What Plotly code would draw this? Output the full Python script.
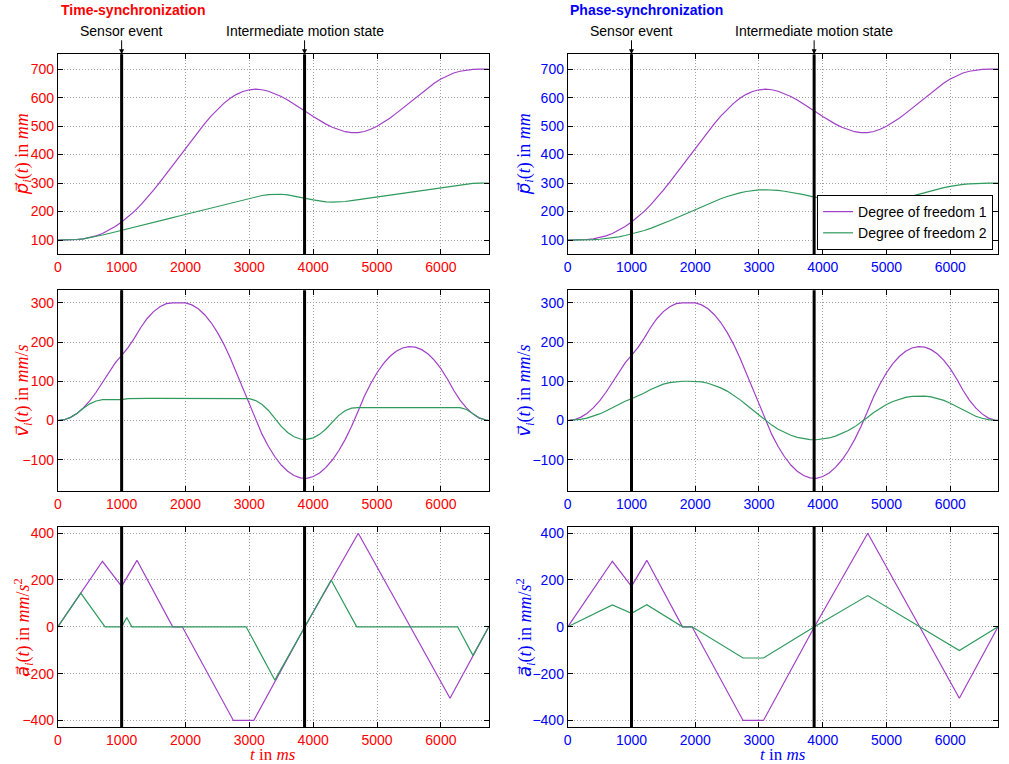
import plotly.graph_objects as go

# ---------------- data ----------------
T = [0, 100, 200, 300, 400, 500, 600, 700, 800, 900,
     1000, 1100, 1200, 1300, 1400, 1500, 1600, 1700, 1800, 1900,
     2000, 2100, 2200, 2300, 2400, 2500, 2600, 2700, 2800, 2900,
     3000, 3100, 3200, 3300, 3400, 3500, 3600, 3700, 3800, 3900,
     4000, 4100, 4200, 4300, 4400, 4500, 4600, 4700, 4800, 4900,
     5000, 5100, 5200, 5300, 5400, 5500, 5600, 5700, 5800, 5900,
     6000, 6100, 6200, 6300, 6400, 6500, 6600, 6700, 6750]

# Degree of freedom 1 (identical in both columns)
P1 = [100, 100.1, 100.6, 101.9, 104.4, 108.5, 114.6, 123.1, 134.2, 147.8,
      163.4, 181.0, 200.8, 223.2, 248.0, 274.9, 303.3, 332.7, 362.6, 392.6,
      422.6, 452.3, 481.3, 509.0, 535.0, 558.7, 579.7, 597.4, 611.4, 621.4,
      627.4, 629.4, 627.5, 622.3, 614.2, 603.7, 591.4, 577.8, 563.3, 548.4,
      533.7, 519.8, 506.9, 495.8, 486.7, 480.3, 476.9, 477.1, 481.1, 488.7,
      499.3, 512.5, 527.7, 544.6, 562.5, 581.1, 599.7, 618.0, 635.3, 651.3,
      665.4, 677.2, 686.2, 692.6, 696.6, 698.9, 699.8, 700.1, 700.0]
V1 = [0, 2, 8, 18, 32, 50, 72, 98, 124, 147,
      166, 186, 210, 237, 260, 277.5, 290, 298, 300, 300,
      299.7, 294.7, 284.7, 269.7, 249.7, 224.7, 194.7, 159.7, 120.3, 80.3,
      40.3, 0.5, -35.5, -66.5, -92.5, -113.5, -129.5, -140.5, -146.5, -147.5,
      -143, -133.8, -119.7, -100.8, -77.2, -48.8, -15.5, 22.4, 60.9, 93.8,
      121.8, 144.9, 163.1, 176.4, 184.8, 188.3, 186.9, 180.6, 169.4, 153.3,
      132.3, 106.4, 77.1, 52, 31.9, 16.8, 6, 1.2, 0]
TA1 = [0, 700, 1000, 1240, 1800, 1950, 2750, 3070, 3870, 4706, 5521, 6143, 6750]
A1 = [0, 280, 173, 284, 0, 0, -400, -400, 0, 400, 0, -305, 0]

# Degree of freedom 2, time-synchronization
P2_TIME = [100, 100.1, 100.6, 101.9, 104.4, 108.1, 112.7, 117.8, 123.1, 128.4,
           133.8, 139.2, 144.8, 150.5, 156.1, 161.8, 167.4, 173.1, 178.7, 184.4,
           190.0, 195.7, 201.3, 207.0, 212.6, 218.3, 223.9, 229.6, 235.2, 240.9,
           246.5, 251.8, 256.4, 259.7, 261.3, 260.8, 258.5, 254.9, 250.5, 245.7,
           241.1, 237.1, 234.3, 233.0, 233.5, 235.4, 238.2, 241.4, 244.7, 248.0,
           251.3, 254.6, 257.9, 261.2, 264.5, 267.8, 271.1, 274.4, 277.7, 281.0,
           284.3, 287.6, 290.9, 294.2, 297.0, 299.0, 300.0, 300.3, 300.3]
V2_TIME = [0, 2, 8, 18, 31.4, 42.4, 49.6, 53.0, 53.3, 53.3,
           53.3, 55.7, 56.5, 56.5, 56.5, 56.5, 56.5, 56.5, 56.5, 56.5,
           56.5, 56.5, 56.5, 56.5, 56.5, 56.5, 56.5, 56.5, 56.5, 56.5,
           55.9, 50.8, 40.7, 25.5, 5.2, -15.2, -30.7, -41.4, -47.2, -48.1,
           -44.2, -35.4, -21.8, -3.5, 13.1, 24.7, 31.3, 33.0, 33.0, 33.0,
           33.0, 33.0, 33.0, 33.0, 33.0, 33.0, 33.0, 33.0, 33.0, 33.0,
           33.0, 33.0, 33.0, 32.6, 28.1, 18.5, 7, 1.5, 0]
TA2_TIME = [0, 360, 740, 1000, 1080, 1160, 2950, 3400, 4281, 4682, 6262, 6502, 6750]
A2_TIME = [0, 144, 0, 0, 40, 0, 0, -228, 200, 0, 0, -122, 0]

# Degree of freedom 2, phase-synchronization
P2_PHASE = [100, 100.0, 100.2, 100.6, 101.5, 102.8, 104.9, 107.7, 111.4, 115.9,
            121.1, 127.0, 133.6, 141.1, 149.3, 158.3, 167.8, 177.6, 187.5, 197.5,
            207.5, 217.4, 227.1, 236.3, 245.0, 252.9, 259.9, 265.8, 270.5, 273.8,
            275.8, 276.5, 275.8, 274.1, 271.4, 267.9, 263.8, 259.3, 254.4, 249.5,
            244.6, 239.9, 235.6, 231.9, 228.9, 226.8, 225.6, 225.7, 227.0, 229.6,
            233.1, 237.5, 242.6, 248.2, 254.2, 260.4, 266.6, 272.7, 278.4, 283.8,
            288.5, 292.4, 295.4, 297.5, 298.9, 299.6, 299.9, 300.0, 300.0]
V2_PHASE = [0, 0.7, 2.7, 6, 10.7, 16.7, 24, 32.7, 41.3, 49,
            55.3, 62, 70, 79, 86.7, 92.5, 96.7, 99.3, 100, 100,
            99.9, 98.2, 94.9, 89.9, 83.2, 74.9, 64.9, 53.2, 40.1, 26.8,
            13.4, 0.2, -11.8, -22.2, -30.8, -37.8, -43.2, -46.8, -48.8, -49.2,
            -47.7, -44.6, -39.9, -33.6, -25.7, -16.3, -5.2, 7.5, 20.3, 31.3,
            40.6, 48.3, 54.4, 58.8, 61.6, 62.8, 62.3, 60.2, 56.5, 51.1,
            44.1, 35.5, 25.7, 17.3, 10.6, 5.6, 2, 0.4, 0]
A2_PHASE = [0, 93.3, 57.7, 94.7, 0, 0, -133.3, -133.3, 0, 133.3, 0, -101.7, 0]

EVENTS = [1000, 3865]
EVENT_LABELS = ["Sensor event", "Intermediate motion state"]
COLUMN_TITLES = ["Time-synchronization", "Phase-synchronization"]
LEGEND_NAMES = ["Degree of freedom 1", "Degree of freedom 2"]
X_TICKS = [0, 1000, 2000, 3000, 4000, 5000, 6000]
Y_TICKS = [[100, 200, 300, 400, 500, 600, 700],
           [-100, 0, 100, 200, 300],
           [-400, -200, 0, 200, 400]]

# ---------------- styling ----------------
W, H = 1009, 764
PURPLE = "#a040c8"
GREEN = "#2e9a5c"
COL_COLORS = ["#ff0000", "#0000ff"]
SANS = "Liberation Sans, Arial, sans-serif"
SERIF = "Liberation Serif, DejaVu Serif, serif"

X_DOM = [[54 / W, 486.7 / W], [566 / W, 998 / W]]
ROW_PX = [[52.5, 253.3], [289.4, 491.0], [526.7, 728.3]]
Y_DOM = [[1 - b / H, 1 - t / H] for t, b in ROW_PX]
Y_RANGES = [[50, 752], [-180, 332], [-430, 428]]
X_RANGE = [0, 6750]


def vec(letter):
    # vector arrow over an italic letter, rendered with a font that has U+20D7
    return ('<span style="font-family:DejaVu Sans;font-style:italic">'
            + letter + '\u20d7</span>')


YLABELS = [
    vec("p") + "<sub><i>i</i></sub>(<i>t</i>) in <i>mm</i>",
    vec("v") + "<sub><i>i</i></sub>(<i>t</i>) in <i>mm</i>/<i>s</i>",
    vec("a") + "<sub><i>i</i></sub>(<i>t</i>) in <i>mm</i>/<i>s</i><sup>2</sup>",
]

fig = go.Figure()

data = {
    0: [(T, P1, T, P2_TIME), (T, V1, T, V2_TIME), (TA1, A1, TA2_TIME, A2_TIME)],
    1: [(T, P1, T, P2_PHASE), (T, V1, T, V2_PHASE), (TA1, A1, TA1, A2_PHASE)],
}

layout = dict(
    width=W, height=H, autosize=False,
    margin=dict(l=0, r=0, t=0, b=0),
    paper_bgcolor="white", plot_bgcolor="white",
    font=dict(family=SANS, size=14, color="black"),
    showlegend=True,
    legend=dict(
        x=993 / W, xanchor="right", y=1 - 249 / H, yanchor="bottom",
        bgcolor="white", bordercolor="black", borderwidth=1,
        font=dict(family=SANS, size=14, color="black"),
        itemwidth=30, tracegroupgap=0,
    ),
)

shapes = []
annotations = []

for c in range(2):
    for r in range(3):
        idx = r * 2 + c + 1
        xs = "" if idx == 1 else str(idx)
        xa, ya = "x" + xs, "y" + xs
        t1, y1, t2, y2 = data[c][r]
        show = (c == 1 and r == 0)
        fig.add_trace(go.Scatter(x=t1, y=y1, mode="lines", name=LEGEND_NAMES[0],
                                 line=dict(color=PURPLE, width=1.2),
                                 xaxis=xa, yaxis=ya, showlegend=show))
        fig.add_trace(go.Scatter(x=t2, y=y2, mode="lines", name=LEGEND_NAMES[1],
                                 line=dict(color=GREEN, width=1.2),
                                 xaxis=xa, yaxis=ya, showlegend=show))
        axcommon = dict(showline=True, linecolor="black", linewidth=1, mirror="ticks",
                        ticks="inside", ticklen=5, tickcolor="black",
                        showgrid=True, gridcolor="#a0a0a0", griddash="1px,2px",
                        gridwidth=1, zeroline=False,
                        tickfont=dict(family=SANS, size=14, color=COL_COLORS[c]))
        layout["xaxis" + xs] = dict(domain=X_DOM[c], range=X_RANGE, anchor=ya,
                                    tickvals=X_TICKS, **axcommon)
        layout["yaxis" + xs] = dict(domain=Y_DOM[r], range=Y_RANGES[r], anchor=xa,
                                    tickvals=Y_TICKS[r], **axcommon)
        for ev in EVENTS:
            shapes.append(dict(type="line", xref=xa, yref=ya + " domain",
                               x0=ev, x1=ev, y0=0, y1=1, layer="above",
                               line=dict(color="black", width=3)))
        # y label
        annotations.append(dict(
            text=YLABELS[r], textangle=-90, showarrow=False,
            xref="paper", yref="paper",
            x=(19 if c == 0 else 523) / W, y=sum(Y_DOM[r]) / 2,
            xanchor="center", yanchor="middle",
            font=dict(family=SERIF, size=18, color=COL_COLORS[c])))
    # event annotations
    xa = "x" if c == 0 else "x2"
    ya = "y" if c == 0 else "y2"
    for ev, lab in zip(EVENTS, EVENT_LABELS):
        annotations.append(dict(
            text=lab, x=ev, xref=xa, y=1, yref=ya + " domain",
            showarrow=True, ax=0, ay=-23.5, arrowhead=2, arrowsize=1,
            arrowwidth=1, arrowcolor="black", standoff=0,
            font=dict(family=SANS, size=14, color="black")))
    # column title
    annotations.append(dict(
        text="<b>" + COLUMN_TITLES[c] + "</b>", showarrow=False,
        xref="paper", yref="paper",
        x=(55 if c == 0 else 566) / W, y=1 - 8 / H,
        xanchor="left", yanchor="middle",
        font=dict(family=SANS, size=14, color=COL_COLORS[c])))
    # x label
    annotations.append(dict(
        text="<i>t</i> in <i>ms</i>", showarrow=False,
        xref="paper", yref="paper",
        x=sum(X_DOM[c]) / 2, y=1 - 755 / H,
        xanchor="center", yanchor="middle",
        font=dict(family=SERIF, size=17, color=COL_COLORS[c])))

layout["shapes"] = shapes
layout["annotations"] = annotations
fig.update_layout(**layout)
fig.write_html(
    "out.html",
    config={"displayModeBar": False},
    post_script="document.body.style.margin='0';document.body.style.padding='0';"
                "document.documentElement.style.overflow='hidden';",
)
